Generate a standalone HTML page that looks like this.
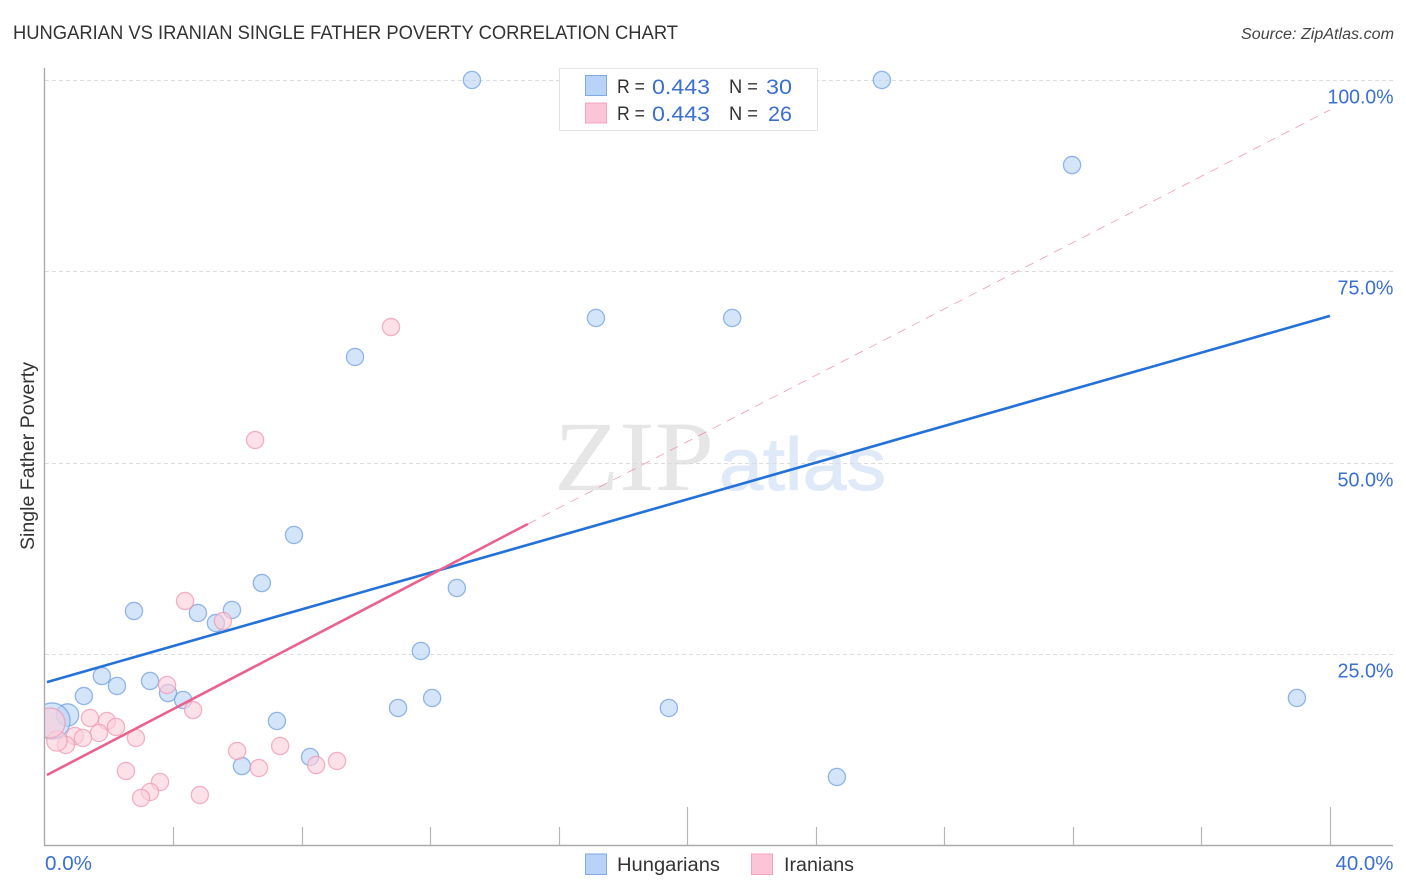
<!DOCTYPE html>
<html lang="en">
<head>
<meta charset="utf-8">
<title>Hungarian vs Iranian Single Father Poverty Correlation Chart</title>
<style>
html,body{margin:0;padding:0;background:#fff;width:1406px;height:892px;overflow:hidden}
svg{display:block;font-family:"Liberation Sans",sans-serif}
</style>
</head>
<body>
<svg id="chart" xmlns="http://www.w3.org/2000/svg" width="1406" height="892" viewBox="0 0 1406 892">
  <defs>
    <clipPath id="plot-clip"><rect x="45" y="60" width="1348" height="786"/></clipPath>
  </defs>
  <text x="13" y="39" font-size="19" fill="#333" textLength="665" lengthAdjust="spacingAndGlyphs">HUNGARIAN VS IRANIAN SINGLE FATHER POVERTY CORRELATION CHART</text>
  <text x="1394" y="39" font-size="15.5" font-style="italic" fill="#444" text-anchor="end" textLength="153" lengthAdjust="spacingAndGlyphs">Source: ZipAtlas.com</text>

  <g>
    <text x="554" y="490" font-family="'Liberation Serif',serif" font-size="100" fill="#e6e6e6" textLength="160" lengthAdjust="spacingAndGlyphs">ZIP</text>
    <text x="719" y="490" font-size="74" fill="#dfe9f8" stroke="#dfe9f8" stroke-width="1" textLength="167" lengthAdjust="spacingAndGlyphs">atlas</text>
  </g>

  <g id="grid"></g>
  <g id="y-labels"></g>
  <g id="x-labels"></g>
  <g id="points" clip-path="url(#plot-clip)"></g>
  <rect x="0" y="690" width="44" height="60" fill="#fff"/>
  <g id="axes"></g>
  <g id="trends"></g>

  <text transform="translate(34,456) rotate(-90)" font-size="19" fill="#333" text-anchor="middle" textLength="188" lengthAdjust="spacingAndGlyphs">Single Father Poverty</text>

  <g>
    <rect x="559.5" y="68.5" width="258" height="62" fill="#fff" stroke="#e2e2e2" stroke-width="1"/>
    <rect x="585.5" y="75.5" width="21" height="20" fill="#b9d3f7" stroke="#80a9e4"/>
    <rect x="585.5" y="103" width="21" height="20" fill="#fcc5d7" stroke="#f3a5be"/>
    <text x="617" y="93" font-size="19" fill="#333" textLength="28" lengthAdjust="spacingAndGlyphs">R =</text>
    <text x="652" y="94" font-size="21" fill="#3b6fd0" textLength="58" lengthAdjust="spacingAndGlyphs">0.443</text>
    <text x="729" y="93" font-size="19" fill="#333" textLength="29" lengthAdjust="spacingAndGlyphs">N =</text>
    <text x="766" y="94" font-size="21" fill="#3b6fd0" textLength="26" lengthAdjust="spacingAndGlyphs">30</text>
    <text x="617" y="120" font-size="19" fill="#333" textLength="28" lengthAdjust="spacingAndGlyphs">R =</text>
    <text x="652" y="121" font-size="21" fill="#3b6fd0" textLength="58" lengthAdjust="spacingAndGlyphs">0.443</text>
    <text x="729" y="120" font-size="19" fill="#333" textLength="29" lengthAdjust="spacingAndGlyphs">N =</text>
    <text x="768" y="121" font-size="21" fill="#3b6fd0" textLength="24" lengthAdjust="spacingAndGlyphs">26</text>
  </g>

  <g>
    <rect x="585.5" y="854" width="21" height="20.5" fill="#b9d3f7" stroke="#80a9e4"/>
    <text x="617" y="871" font-size="19" fill="#333" textLength="103" lengthAdjust="spacingAndGlyphs">Hungarians</text>
    <rect x="751.5" y="854" width="21" height="20.5" fill="#fcc5d7" stroke="#f3a5be"/>
    <text x="784" y="871" font-size="19" fill="#333" textLength="70" lengthAdjust="spacingAndGlyphs">Iranians</text>
  </g>
</svg>

<script>
// Chart data (x: percent on 0-40 axis, y: percent on 0-100 axis)
const yTickValues = [100, 75, 50, 25];
const yTickLabels = ['100.0%', '75.0%', '50.0%', '25.0%'];
const xTickValues = [4, 8, 12, 16, 20, 24, 28, 32, 36, 40];
const xMajorTicks = [20, 40];
const xEndValues = [0, 40];
const xEndLabels = ['0.0%', '40.0%'];

const hungarianX = [13.29, 26.05, 31.97, 17.15, 21.39, 9.65, 7.75, 6.75, 2.77, 4.76, 5.82, 5.32, 12.82, 11.70, 1.77, 2.24, 3.27, 1.21, 3.83, 4.30, 10.99, 12.05, 19.42, 38.97, 7.22, 8.25, 6.13, 24.65, 0.70, 0.22];
const hungarianY = [100, 100, 88.9, 68.93, 68.93, 63.84, 40.6, 34.33, 30.68, 30.42, 30.81, 29.11, 33.68, 25.46, 22.19, 20.89, 21.54, 19.58, 19.97, 19.06, 18.02, 19.32, 18.02, 19.32, 16.32, 11.62, 10.44, 9.01, 17.10, 16.32];
const hungarianWeight = [1, 1, 1, 1, 1, 1, 1, 1, 1, 1, 1, 1, 1, 1, 1, 1, 1, 1, 1, 1, 1, 1, 1, 1, 1, 1, 1, 1, 1.7, 4.4];

const iranianX = [10.77, 6.54, 4.36, 5.54, 3.80, 4.61, 1.40, 1.93, 2.21, 1.68, 0.93, 1.18, 2.83, 0.65, 0.37, 0.16, 5.98, 7.32, 6.66, 8.44, 9.09, 2.52, 3.58, 3.27, 2.99, 4.82];
const iranianY = [67.75, 53.0, 31.98, 29.37, 21.02, 17.75, 16.71, 16.32, 15.54, 14.75, 14.36, 14.10, 14.10, 13.19, 13.71, 16.06, 12.40, 13.05, 10.18, 10.57, 11.10, 9.79, 8.36, 7.05, 6.27, 6.66];
const iranianWeight = [1, 1, 1, 1, 1, 1, 1, 1, 1, 1, 1, 1, 1, 1, 1.4, 3, 1, 1, 1, 1, 1, 1, 1, 1, 1, 1];

const hungarianTrendX = [0.06, 40];
const hungarianTrendY = [21.4, 69.2];
const iranianTrendX = [0.06, 15.03];
const iranianTrendY = [9.27, 42.04];
const iranianDashX = [15.03, 40];
const iranianDashY = [42.04, 96.1];

// Axis functions
const xScale = v => 45 + v * 32.125;
const yScale = v => 846 - v * 7.66;
const radius = w => 8.6 * Math.sqrt(w);

const NS = 'http://www.w3.org/2000/svg';
function make(tag, attrs, parent) {
  const el = document.createElementNS(NS, tag);
  for (const k in attrs) el.setAttribute(k, attrs[k]);
  parent.appendChild(el);
  return el;
}

const grid = document.getElementById('grid');
const axes = document.getElementById('axes');
const yLabels = document.getElementById('y-labels');
const xLabels = document.getElementById('x-labels');
const points = document.getElementById('points');
const trends = document.getElementById('trends');

// Width of a label in the reference's wider typeface
const labelWidth = s => s.length === 6 ? 66 : s.length === 5 ? 56 : 47;

yTickValues.forEach((v, i) => {
  const py = Math.floor(yScale(v)) + 0.5;
  const line = make('line', {x1: 45, x2: 1393, y1: py, y2: py, stroke: '#dcdcdc', 'stroke-width': 1, 'stroke-dasharray': '4 3'}, grid);
  
  
  const label = make('text', {x: 1393.5, y: py + 23, 'font-size': 20, fill: '#3b6fd0', 'text-anchor': 'end', textLength: labelWidth(yTickLabels[i]), lengthAdjust: 'spacingAndGlyphs'}, yLabels);
  label.textContent = yTickLabels[i];
  
  
});

const yAxis = make('line', {x1: 44.5, x2: 44.5, y1: 68, y2: 846, stroke: '#aaa', 'stroke-width': 1.4}, axes);


const xAxis = make('line', {x1: 44, x2: 1393, y1: 845.5, y2: 845.5, stroke: '#aaa', 'stroke-width': 1.4}, axes);



xTickValues.forEach(v => {
  const px = Math.floor(xScale(v)) + 0.5;
  const top = xMajorTicks.includes(v) ? 807 : 827;
  const tick = make('line', {x1: px, x2: px, y1: top, y2: 845, stroke: '#b5b5b5', 'stroke-width': 1.2}, axes);
  
  
});

xEndValues.forEach((v, i) => {
  const attrs = i === 0
    ? {x: xScale(v), 'text-anchor': 'start'}
    : {x: 1393.5, 'text-anchor': 'end'};
  const label = make('text', Object.assign({y: 870, 'font-size': 20, fill: '#3b6fd0', textLength: i === 0 ? 47 : 58, lengthAdjust: 'spacingAndGlyphs'}, attrs), xLabels);
  label.textContent = xEndLabels[i];
  
  
});

function drawSeries(xs, ys, ws, fill, stroke, name) {
  xs.forEach((v, i) => {
    const c = make('circle', {cx: xScale(v), cy: yScale(ys[i]), r: radius(ws[i]), fill: fill, 'fill-opacity': 0.62, stroke: stroke, 'stroke-opacity': 0.75, 'stroke-width': 1.3}, points);
    
    
  });
}
drawSeries(hungarianX, hungarianY, hungarianWeight, '#bcd5f6', '#6f9fe0', 'point-hungarian');
drawSeries(iranianX, iranianY, iranianWeight, '#fbcfdc', '#ee9ab6', 'point-iranian');

const hungarianLine = make('line', {x1: xScale(hungarianTrendX[0]), y1: yScale(hungarianTrendY[0]), x2: xScale(hungarianTrendX[1]), y2: yScale(hungarianTrendY[1]), stroke: '#2471d8', 'stroke-width': 2.6}, trends);


const iranianDash = make('line', {x1: xScale(iranianDashX[0]), y1: yScale(iranianDashY[0]), x2: xScale(iranianDashX[1]), y2: yScale(iranianDashY[1]), stroke: '#eb6d96', 'stroke-width': 0.8, 'stroke-dasharray': '9 7', 'stroke-opacity': 0.7}, trends);


const iranianLine = make('line', {x1: xScale(iranianTrendX[0]), y1: yScale(iranianTrendY[0]), x2: xScale(iranianTrendX[1]), y2: yScale(iranianTrendY[1]), stroke: '#e9628f', 'stroke-width': 2.6}, trends);


</script>
</body>
</html>
